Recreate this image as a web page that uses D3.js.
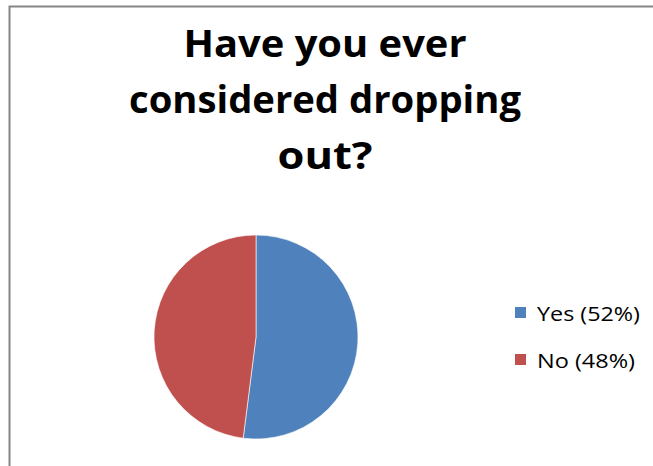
<!DOCTYPE html>
<html><head><meta charset="utf-8">
<script src="https://cdn.jsdelivr.net/npm/d3@7"></script>
<style>html,body{margin:0;padding:0;background:#fff;overflow:hidden}</style>
</head><body>
<svg id="c" width="653" height="466"></svg>
<script>
const categories = ["Yes (52%)", "No (48%)"];
const values = [52, 48];
const colors = ["#4F81BD", "#C0504D"];
const titleLines = ["Have you ever", "considered dropping", "out?"];
const titleWidths = [283, 392, 95];

const svg = d3.select("#c");
// chart border (extends beyond the right/bottom of the view)
svg.append("rect").attr("x", 9.5).attr("y", 6.5).attr("width", 700).attr("height", 500)
  .attr("fill", "#fff").attr("stroke", "#868686").attr("stroke-width", 2);

const font = "'Open Sans', Lato, sans-serif";
svg.append("g").selectAll("text").data(titleLines).join("text")
  .attr("x", 325).attr("y", (d, i) => 57 + i * 56)
  .attr("text-anchor", "middle").attr("font-family", font)
  .attr("font-weight", "bold").attr("font-size", 37.5).attr("fill", "#000")
  .attr("textLength", (d, i) => titleWidths[i]).attr("lengthAdjust", "spacingAndGlyphs")
  .text(d => d);

const pie = d3.pie().sort(null).value(d => d)(values);
const arc = d3.arc().innerRadius(0).outerRadius(102);
svg.append("g").attr("transform", "translate(256,337)")
  .selectAll("path").data(pie).join("path")
  .attr("d", arc).attr("fill", (d, i) => colors[i])
  .attr("stroke", "#fff").attr("stroke-width", 0.6);

const leg = svg.append("g").selectAll("g").data(categories).join("g")
  .attr("transform", (d, i) => `translate(515,${307 + i * 47})`);
leg.append("rect").attr("width", 11).attr("height", 11).attr("fill", (d, i) => colors[i]);
leg.append("text").attr("x", 22).attr("y", 14)
  .attr("font-family", font).attr("font-size", 20.5).attr("fill", "#000")
  .attr("textLength", (d, i) => i === 0 ? 103 : 98).attr("lengthAdjust", "spacingAndGlyphs")
  .text(d => d);
</script>
</body></html>
